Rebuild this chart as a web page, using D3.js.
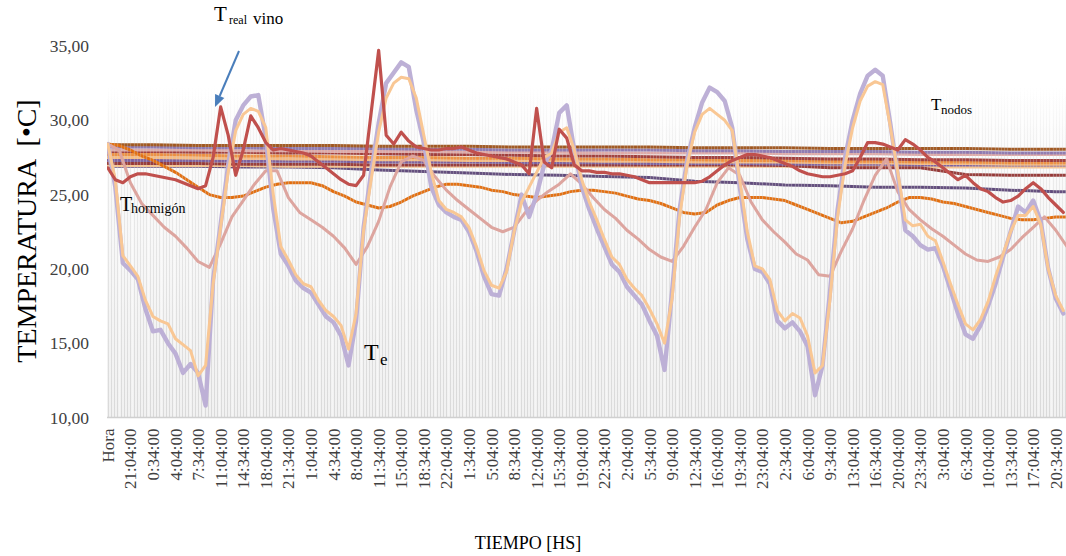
<!DOCTYPE html>
<html><head><meta charset="utf-8">
<script src="https://cdn.jsdelivr.net/npm/d3@7"></script>
<style>
html,body{margin:0;padding:0;background:#fff;}
svg{display:block;font-family:"Liberation Serif","Times New Roman",serif;}
</style>
</head><body>
<svg id="c" width="1066" height="556"></svg>
<script>
// ---------- DATA ----------
const tickLabels = ["Hora","21:04:00","0:34:00","4:04:00","7:34:00","11:04:00","14:34:00","18:04:00","21:34:00","1:04:00","4:34:00","8:04:00","11:34:00","15:04:00","18:34:00","22:04:00","1:34:00","5:04:00","8:34:00","12:04:00","15:34:00","19:04:00","22:34:00","2:04:00","5:34:00","9:04:00","12:34:00","16:04:00","19:34:00","23:04:00","2:34:00","6:04:00","9:34:00","13:04:00","16:34:00","20:04:00","23:34:00","3:04:00","6:34:00","10:04:00","13:34:00","17:04:00","20:34:00"];
const yTicks = [10,15,20,25,30,35];
const labelStep = 21;   // categories between labels
const fineStep = 7;     // categories between samples of detailed series
const halfStep = 10.5;
const coarseStep = 42;
const lastCategory = 889;

// Te (exterior)
const tExterior = [28.4,25.5,20.4,19.9,19.3,17.3,15.8,15.9,15.0,14.3,13.0,13.6,13.0,
 10.8,19.3,23.0,27.0,30.0,31.0,31.6,31.7,
 28.8,24.0,21.0,20.2,19.2,18.7,18.4,17.6,16.8,16.4,15.5,13.5,16.5,
 22.8,26.5,29.8,32.5,33.2,33.9,33.6,30.7,28.5,25.5,24.3,23.8,23.5,23.3,22.5,
 21.2,19.5,18.3,18.2,20.0,22.5,25.0,23.5,25.0,27.0,28.0,
 30.5,31.0,28.0,25.5,24.0,22.7,21.5,20.3,19.8,18.8,18.2,17.6,16.5,15.5,13.2,
 18.5,24.0,27.3,29.5,31.2,32.2,31.9,31.3,29.5,25.5,22.0,
 20.0,19.8,19.0,16.5,16.0,16.4,15.8,14.8,11.5,13.5,
 18.5,24.0,27.5,30.0,31.8,33.0,33.4,33.0,29.8,26.3,22.6,
 22.2,21.6,21.3,21.4,20.2,18.6,17.0,15.6,15.3,16.2,17.5,
 19.0,20.8,22.5,24.2,23.8,24.6,23.2,20.0,18.0,17.0];
// surface (peach) series following Te
const tSuperficie = [28.4,26.0,20.9,20.2,19.5,17.9,16.8,16.5,16.3,15.3,14.9,14.5,12.8,
 13.5,19.0,22.8,26.5,29.3,30.4,30.8,30.6,
 29.5,25.0,21.5,20.6,19.6,19.0,18.8,17.9,17.2,16.8,16.2,14.6,17.0,
 22.6,26.0,29.2,31.5,32.5,32.9,32.8,31.5,29.0,26.5,24.6,24.0,23.8,23.5,22.8,
 21.5,19.9,18.9,18.7,19.8,22.5,24.5,25.5,26.5,27.5,27.8,
 29.2,29.5,28.0,26.0,24.5,23.3,22.0,20.8,20.3,19.3,18.7,18.2,17.3,16.3,15.0,
 18.0,23.5,27.0,29.2,30.4,30.8,30.4,30.0,29.3,26.0,22.5,
 20.2,20.0,19.3,17.2,16.5,17.0,16.7,15.5,13.0,13.5,
 18.0,23.5,27.0,29.5,31.3,32.3,32.6,32.4,29.6,26.5,23.3,
 22.9,23.0,22.2,21.9,20.5,19.0,17.6,16.3,15.9,16.6,17.8,
 19.5,21.0,22.5,23.6,23.6,24.2,23.0,20.0,18.2,17.2];
// T real vino (red)
const tRealVino = [26.8,26.0,25.8,26.2,26.4,26.4,26.3,26.2,26.1,26.0,25.8,25.6,25.4,
 25.6,27.5,30.9,29.0,26.3,28.0,30.3,29.5,
 28.5,28.0,28.1,28.0,27.9,27.8,27.6,27.2,26.8,26.4,26.0,25.7,25.6,
 26.3,30.5,34.7,29.0,28.4,29.2,28.6,28.2,28.1,28.0,28.0,28.1,28.1,28.2,28.0,
 27.8,27.7,27.6,27.5,27.4,27.2,27.0,26.4,30.8,27.2,26.8,
 29.4,28.8,27.0,26.6,26.6,26.5,26.5,26.4,26.4,26.3,26.2,26.0,25.8,25.8,25.8,
 25.8,25.8,25.8,25.8,25.9,26.2,26.6,27.0,27.3,27.5,27.7,
 27.7,27.6,27.5,27.3,27.1,26.9,26.6,26.4,26.3,26.2,
 26.2,26.3,26.4,26.6,27.5,28.5,28.5,28.4,28.2,28.0,28.7,
 28.4,28.0,27.5,27.2,26.8,26.4,26.0,26.3,25.8,25.4,25.2,
 24.8,24.5,24.6,24.9,25.4,25.8,25.4,24.8,24.3,23.8];
// wall (pink), half-label step
const tPared = [28.4,28.0,25.8,24.4,23.6,22.8,22.2,21.4,20.5,20.1,
 21.7,23.5,24.6,25.7,26.6,26.6,24.8,23.8,23.3,22.8,
 22.2,21.4,20.3,21.5,23.2,25.5,27.2,27.6,27.3,26.2,
 25.3,24.6,24.0,23.4,22.8,22.5,22.8,23.8,24.6,25.2,
 25.7,26.4,25.7,24.8,24.0,23.4,22.6,22.0,21.3,20.8,
 20.5,21.5,22.8,24.0,25.8,26.8,26.3,24.5,23.3,22.5,
 21.8,21.0,20.6,19.6,19.5,21.2,22.7,24.6,26.3,27.4,
 25.2,24.0,23.3,22.7,22.2,21.6,21.0,20.6,20.5,20.8,
 21.3,22.1,22.8,23.5,22.6,21.5];
// T hormigón (dark orange), half-label step
const tHormigon = [28.4,28.3,28.0,27.6,27.3,26.9,26.5,26.0,25.5,25.0,
 24.8,24.8,24.9,25.2,25.5,25.7,25.8,25.8,25.8,25.6,
 25.2,24.9,24.5,24.3,24.1,24.2,24.5,24.9,25.2,25.5,
 25.7,25.7,25.6,25.5,25.3,25.2,25.0,24.9,24.8,24.9,
 25.0,25.2,25.3,25.3,25.2,25.1,24.9,24.7,24.6,24.4,
 24.1,23.8,23.7,23.8,24.3,24.6,24.8,24.8,24.8,24.7,
 24.6,24.3,24.0,23.7,23.4,23.1,23.2,23.5,23.8,24.1,
 24.5,24.8,24.8,24.7,24.5,24.4,24.2,24.0,23.8,23.6,
 23.4,23.3,23.3,23.4,23.5,23.5];
// T nodos, coarse step
const nodoMarron   = [28.35,28.35,28.3,28.3,28.3,28.3,28.25,28.25,28.25,28.2,28.2,28.2,28.2,28.15,28.15,28.15,28.1,28.1,28.1,28.1,28.05,28.05,28.05];
const nodoLila     = [28.2,28.2,28.15,28.15,28.1,28.1,28.1,28.05,28.05,28.0,28.0,28.0,28.0,27.95,27.95,27.9,27.9,27.9,27.85,27.85,27.8,27.8,27.8];
const nodoRosa     = [28.0,28.0,28.0,27.95,27.95,27.9,27.9,27.9,27.85,27.85,27.85,27.8,27.8,27.8,27.8,27.75,27.75,27.75,27.7,27.7,27.7,27.7,27.7];
const nodoGranate1 = [27.9,27.9,27.85,27.85,27.8,27.8,27.75,27.7,27.7,27.65,27.6,27.6,27.55,27.5,27.5,27.45,27.4,27.4,27.35,27.35,27.3,27.3,27.3];
const nodoNaranja  = [27.7,27.7,27.65,27.6,27.6,27.55,27.5,27.5,27.45,27.45,27.4,27.4,27.35,27.35,27.3,27.3,27.25,27.25,27.2,27.2,27.15,27.15,27.15];
const nodoDurazno  = [27.5,27.5,27.45,27.45,27.4,27.4,27.35,27.35,27.3,27.3,27.3,27.25,27.25,27.2,27.2,27.2,27.15,27.15,27.1,27.1,27.05,27.05,27.05];
const nodoMorado   = [27.3,27.3,27.3,27.25,27.25,27.25,27.2,27.2,27.2,27.15,27.15,27.15,27.1,27.1,27.1,27.05,27.05,27.05,27.0,27.0,27.0,27.0,27.0];
const nodoGranate2 = [27.1,27.1,27.1,27.05,27.05,27.05,27.0,27.0,27.0,27.0,27.0,27.0,27.0,27.0,27.0,26.95,26.8,26.8,26.8,26.35,26.3,26.3,26.3];
const nodoDurazno2 = [26.95,26.95,26.95,26.95,26.9,26.9,26.9,26.9,26.9,26.9,26.9,26.9,26.9,26.9,26.9,26.9,26.85,26.85,26.85,26.85,26.85,26.85,26.85];
const nodoOscuro   = [26.9,26.9,26.9,26.85,26.85,26.8,26.65,26.55,26.45,26.35,26.3,26.22,26.15,25.9,25.8,25.65,25.6,25.5,25.5,25.45,25.3,25.2,25.2];

// ---------- CHART ----------
const svg = d3.select("#c");
const x = d3.scaleLinear().domain([0, lastCategory]).range([107.8, 1063.3]);
const y = d3.scaleLinear().domain([10, 35]).range([417.5, 46]);
const left = 107, right = 1066, bottom = y(10), stripeTop = y(32.3);

const defs = svg.append("defs");
defs.append("clipPath").attr("id","clip").append("rect")
  .attr("x", left).attr("y", 0).attr("width", right-left).attr("height", bottom);
const bg = defs.append("linearGradient").attr("id","bgGrad")
  .attr("gradientUnits","userSpaceOnUse").attr("x1",0).attr("x2",0).attr("y1",stripeTop).attr("y2",bottom);
bg.append("stop").attr("offset",0).attr("stop-color","#ffffff");
bg.append("stop").attr("offset",1).attr("stop-color","#f5f5f5");
const sg = defs.append("linearGradient").attr("id","stripeGrad")
  .attr("gradientUnits","userSpaceOnUse").attr("x1",0).attr("x2",0).attr("y1",stripeTop).attr("y2",bottom);
sg.append("stop").attr("offset",0).attr("stop-color","#d0d0d0").attr("stop-opacity",0);
sg.append("stop").attr("offset",0.2).attr("stop-color","#d0d0d0").attr("stop-opacity",0.35);
sg.append("stop").attr("offset",1).attr("stop-color","#d0d0d0").attr("stop-opacity",0.75);

svg.append("rect").attr("x",left).attr("y",stripeTop).attr("width",right-left)
  .attr("height",bottom-stripeTop).attr("fill","url(#bgGrad)");

const gPlot = svg.append("g").attr("clip-path","url(#clip)");

function drawSeries(values, step, color, width) {
  const line = d3.line().x((d,i)=>x(i*step)).y(d=>y(d)).curve(d3.curveLinear);
  gPlot.append("path").datum(values).attr("d", line)
    .attr("fill","none").attr("stroke",color).attr("stroke-width",width)
    .attr("stroke-linejoin","round").attr("stroke-linecap","round");
}

// nodos band
[[nodoOscuro,"#5f497a"],[nodoDurazno2,"#f9c38c"],[nodoGranate2,"#953735"],[nodoMorado,"#7b5f9e"],
 [nodoDurazno,"#f8bb80"],[nodoNaranja,"#ee8f3e"],[nodoGranate1,"#a03c39"],[nodoRosa,"#e0a9a7"],
 [nodoLila,"#8e78b0"],[nodoMarron,"#a0561e"]]
 .forEach(([v,c]) => drawSeries(v, coarseStep, c, 3));
drawSeries(tHormigon, halfStep, "#e36c0a", 3);

// vertical stripes (category grid)
gPlot.append("g").selectAll("line").data(d3.range(0, lastCategory + 4, 3)).join("line")
  .attr("x1", d=>Math.round(x(d))+0.5).attr("x2", d=>Math.round(x(d))+0.5).attr("y1", stripeTop).attr("y2", bottom)
  .attr("stroke","url(#stripeGrad)").attr("stroke-width",1.3);

drawSeries(tPared, halfStep, "#dda59f", 3);
drawSeries(tExterior, fineStep, "#bdb0d6", 4.4);
drawSeries(tSuperficie, fineStep, "#f9c794", 3);
drawSeries(tRealVino, fineStep, "#c0504d", 3.2);

// bottom axis line
svg.append("line").attr("x1",left).attr("x2",right).attr("y1",bottom).attr("y2",bottom)
  .attr("stroke","#d0d0d0").attr("stroke-width",1.5);

// y axis labels
const yAxis = d3.axisLeft(y).tickValues(yTicks).tickSize(0).tickPadding(18)
  .tickFormat(d => d3.format(".2f")(d).replace(".", ","));
const gy = svg.append("g").attr("transform",`translate(${left},0)`).call(yAxis);
gy.select(".domain").remove();
gy.selectAll("text").attr("font-family","Liberation Serif, serif").attr("font-size",17.5).attr("fill","#404040");

// x axis labels
const xAxis = d3.axisBottom(x).tickValues(tickLabels.map((_,i)=>i*labelStep))
  .tickSize(0).tickFormat(d => tickLabels[d/labelStep]);
const gx = svg.append("g").attr("transform",`translate(0,${bottom})`).call(xAxis);
gx.select(".domain").remove();
gx.selectAll("text").attr("transform","rotate(-90)").attr("x",-11).attr("y",0).attr("dy","0.33em")
  .style("text-anchor","end").attr("font-family","Liberation Serif, serif").attr("font-size",17).attr("fill","#404040");

// titles
svg.append("text").attr("x",528).attr("y",549).attr("text-anchor","middle")
  .attr("font-size",18).attr("fill","#000").text("TIEMPO [HS]");
svg.append("text").attr("transform","translate(36,231) rotate(-90)").attr("text-anchor","middle")
  .attr("font-size",28).attr("fill","#000").style("white-space","pre").text("TEMPERATURA  [•C]");

// annotations
function label(parts) {
  const t = svg.append("text").attr("fill","#000");
  parts.forEach(p => t.append("tspan").attr("x",p[0]).attr("y",p[1]).attr("font-size",p[2]).text(p[3]));
}
label([[214,21,21,"T"],[229,24,12,"real"],[253,24,17,"vino"]]);
label([[120,211,20,"T"],[131,213,14,"hormigón"]]);
label([[364,360,24,"T"],[380,365,17,"e"]]);
label([[931,110,17,"T"],[941,114,13,"nodos"]]);

// arrow
svg.append("line").attr("x1",239).attr("y1",51).attr("x2",219.7).attr("y2",96)
  .attr("stroke","#4a7ebb").attr("stroke-width",2);
svg.append("polygon").attr("points","215,107 224.3,97.9 215.1,94.0").attr("fill","#4a7ebb");
</script>
</body></html>
